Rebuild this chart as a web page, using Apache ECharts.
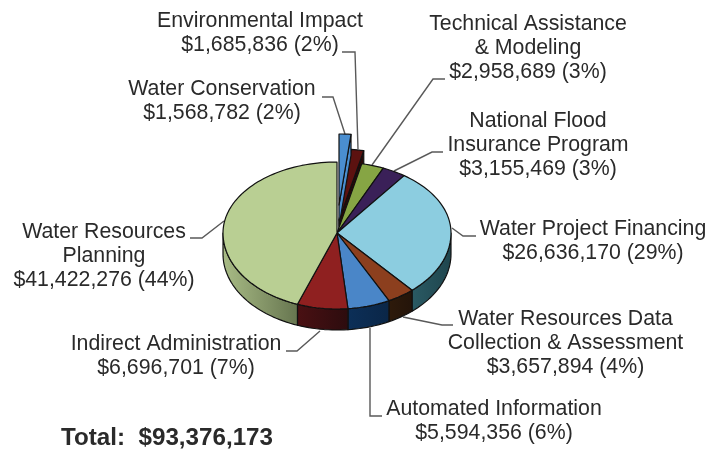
<!DOCTYPE html>
<html>
<head>
<meta charset="utf-8">
<style>
  html, body { margin: 0; padding: 0; background: #fff; }
  #chart { width: 715px; height: 449px; }
</style>
<script src="https://cdn.jsdelivr.net/npm/echarts@6/dist/echarts.min.js"></script>
</head>
<body>
<div id="chart"></div>
<script>
// data, clockwise from 12 o'clock
const names = [
  "Water Conservation", "Environmental Impact", "Technical Assistance & Modeling",
  "National Flood Insurance Program", "Water Project Financing",
  "Water Resources Data Collection & Assessment", "Automated Information",
  "Indirect Administration", "Water Resources Planning"
];
const values = [1568782, 1685836, 2958689, 3155469, 26636170, 3657894, 5594356, 6696701, 41422276];
const totalText = "Total:  $93,376,173";

// styles
const topColors = ["#4a8ed0", "#5c1210", "#86a544", "#3a2058", "#8ccde0", "#8c3f1e", "#4a86c8", "#8f2020", "#b9cf93"];
const wallColors = [
  ["#4a8ed0", "#4a8ed0"], ["#2a0807", "#2a0807"], ["#4f6228", "#4f6228"], ["#1f1030", "#1f1030"],
  ["#2a5a64", "#1f454d"], ["#2e1a0a", "#24140a"], ["#0c2f58", "#0a2647"], ["#4a1013", "#2c0c0e"],
  ["#a9bc86", "#66754f"]
];
// pixel offset of the pulled-out slices, draw order puts those behind the rest
const explodeX = [2, 2, 0, 0, 0, 0, 0, 0, 0];
const explodeY = [-28, -13, 0, 0, 0, 0, 0, 0, 0];
const layer = [2, 1, 3, 3, 3, 3, 3, 3, 3];

// pie geometry
const cx = 337, cy = 233, rx = 114, ryBack = 71, ryFront = 76, depth = 21;
const total = values.reduce((a, b) => a + b, 0);

function rimPoint(deg, dx, dy) {
  const a = deg * Math.PI / 180;
  const c = Math.cos(a);
  return [cx + dx + rx * Math.sin(a), cy + dy - (c > 0 ? ryBack : ryFront) * c];
}

function arcPoints(from, to, dx, dy) {
  const pts = [];
  const n = Math.max(2, Math.ceil((to - from) / 2));
  for (let i = 0; i <= n; i++) pts.push(rimPoint(from + (to - from) * i / n, dx, dy));
  return pts;
}

function renderSlice(params, api) {
  const i = params.dataIndex;
  let sum = 0;
  for (let k = 0; k < i; k++) sum += values[k];
  const from = sum / total * 360;
  const to = from + api.value(1) / total * 360;
  const dx = explodeX[i], dy = explodeY[i];
  const apex = [cx + dx, cy + dy];
  const line = { stroke: "#111", lineWidth: 1.2, lineJoin: "round" };
  const children = [];

  // outer wall, front half only
  const wallFrom = Math.max(from, 90), wallTo = Math.min(to, 270);
  if (wallTo > wallFrom) {
    const upper = arcPoints(wallFrom, wallTo, dx, dy);
    const lower = arcPoints(wallFrom, wallTo, dx, dy + depth).reverse();
    children.push({
      type: "polygon", z2: layer[i],
      shape: { points: upper.concat(lower) },
      style: Object.assign({
        fill: new echarts.graphic.LinearGradient(0, 0, 1, 0, [
          { offset: 0, color: wallColors[i][0] }, { offset: 1, color: wallColors[i][1] }
        ])
      }, line)
    });
  }

  // cut face of a pulled-out slice
  if (dx || dy) {
    const p = rimPoint(to, dx, dy);
    children.push({
      type: "polygon", z2: layer[i],
      shape: { points: [apex, p, [p[0], p[1] + depth], [apex[0], apex[1] + depth]] },
      style: Object.assign({ fill: wallColors[i][0] }, line)
    });
  }

  children.push({
    type: "polygon", z2: layer[i],
    shape: { points: [apex].concat(arcPoints(from, to, dx, dy)) },
    style: Object.assign({ fill: topColors[i] }, line)
  });
  return { type: "group", children: children };
}

function money(v) {
  return "$" + v.toLocaleString("en-US") + " (" + Math.round(v / total * 100) + "%)";
}

// label blocks: center x, first line y, lines
const fontFamily = '"Liberation Sans", Arial, sans-serif';
const labelBlocks = [
  { x: 222, y: 89, lines: ["Water Conservation", money(values[0])] },
  { x: 260, y: 21, lines: ["Environmental Impact", money(values[1])] },
  { x: 528, y: 24, lines: ["Technical Assistance", "& Modeling", money(values[2])] },
  { x: 538, y: 121, lines: ["National Flood", "Insurance Program", money(values[3])] },
  { x: 593, y: 229, lines: ["Water Project Financing", money(values[4])] },
  { x: 565.5, y: 319, lines: ["Water Resources Data", "Collection & Assessment", money(values[5])] },
  { x: 494, y: 409, lines: ["Automated Information", money(values[6])] },
  { x: 176, y: 344, lines: ["Indirect Administration", money(values[7])] },
  { x: 104, y: 232, lines: ["Water Resources", "Planning", money(values[8])] }
];
const leaders = [
  [[345, 134], [333, 97], [322, 97]],
  [[358, 149], [355, 52], [342, 52]],
  [[372, 165], [433, 79], [445, 79]],
  [[394, 171], [432, 152], [443, 152]],
  [[452, 228], [463, 236], [476, 236]],
  [[403, 317], [442, 325], [453, 325]],
  [[370, 328], [370, 416], [382, 416]],
  [[320, 331], [297, 351], [286, 351]],
  [[224, 221], [202, 238], [190, 238]]
];

const graphicItems = [];
leaders.forEach(function (pts) {
  graphicItems.push({
    type: "polyline", z: 1, silent: true,
    shape: { points: pts },
    style: { stroke: "#595959", lineWidth: 1.4, fill: null }
  });
});
labelBlocks.forEach(function (b) {
  b.lines.forEach(function (t, k) {
    graphicItems.push({
      type: "text", z: 5, silent: true,
      x: b.x, y: b.y + k * 24,
      style: {
        text: t, fill: "#2a2a2a", align: "center", verticalAlign: "middle",
        font: "21.3px " + fontFamily
      }
    });
  });
});
graphicItems.push({
  type: "text", z: 5, silent: true,
  x: 61, y: 438,
  style: {
    text: totalText, fill: "#2a2a2a", align: "left", verticalAlign: "middle",
    font: "bold 24.2px " + fontFamily
  }
});

const chart = echarts.init(document.getElementById("chart"));
chart.setOption({
  animation: false,
  backgroundColor: "#fff",
  graphic: { elements: graphicItems },
  series: [{
    type: "custom",
    coordinateSystem: "none",
    silent: true,
    data: values.map(function (v, i) { return [i, v, names[i]]; }),
    renderItem: renderSlice
  }]
});
</script>
</body>
</html>
